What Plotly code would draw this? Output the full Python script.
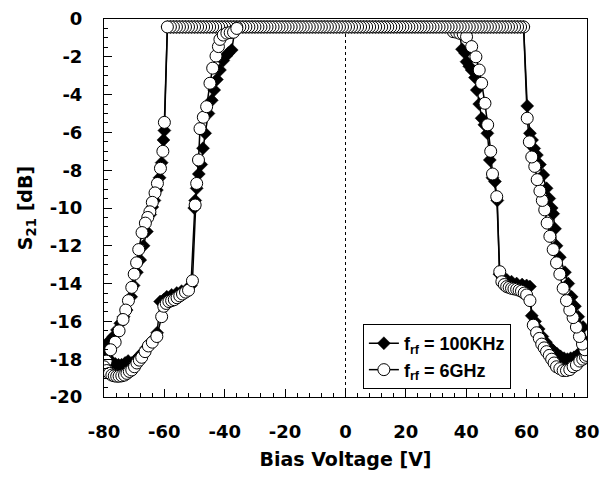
import plotly.graph_objects as go

# ---------------- data ----------------
# 6 GHz (open circles)
g6_inner_right_v = [35.7, 36.8, 37.9, 39.0, 40.1, 41.8, 43.2, 44.3, 45.1, 46.2, 47.1, 48.1, 48.7, 50.1,
                    51.1, 51.8, 52.6, 53.4, 54.2, 55.0, 55.8, 56.7, 57.5, 58.3, 59.2, 60.0, 61.1,
                    62.2, 63.3, 64.2, 65.0, 65.8, 66.6, 67.5, 68.3, 69.1, 69.9, 71.0, 72.1, 73.2,
                    74.3, 75.4, 76.5, 77.6, 78.6, 79.5, 80.0]
g6_inner_right_db = [-0.67, -0.7, -0.76, -0.8, -0.94, -1.46, -2.0, -2.7, -3.4, -4.46, -5.6, -7.0, -8.2, -9.4,
                     -13.37, -13.9, -14.05, -14.16, -14.2, -14.25, -14.28, -14.3, -14.35, -14.4, -14.5, -14.6, -14.9,
                     -16.2, -16.6, -16.9, -17.2, -17.4, -17.6, -17.8, -18.0, -18.2, -18.4, -18.5, -18.6, -18.6,
                     -18.55, -18.4, -18.3, -18.1, -18.0, -17.9, -17.8]
g6_outer_right_v = [79.3, 78.5, 77.5, 76.5, 75.4, 74.3, 73.2, 72.1, 71.0, 69.9, 68.8, 67.7, 66.8, 66.0,
                    65.2, 64.4, 63.5, 62.7, 61.7, 60.9, 60.2]
g6_outer_right_db = [-17.5, -17.2, -16.8, -16.3, -15.8, -15.4, -14.9, -14.25, -13.5, -12.9, -12.2, -11.5, -10.8, -10.1,
                     -9.6, -9.1, -8.5, -7.8, -7.3, -6.5, -5.25]
top_v = list(range(59, -60, -1))
g6_top_db = [-0.42] * len(top_v)
g6_outer_left_v = [-60.0, -60.5, -61.3, -62.3, -63.1, -64.0, -64.8, -65.5, -66.3, -67.4, -68.5, -69.2, -70.0,
                   -70.8, -71.9, -72.8, -73.7, -75.0, -76.3, -77.8, -79.3]
g6_outer_left_db = [-5.47, -7.0, -7.9, -8.7, -9.2, -9.7, -10.2, -10.5, -10.8, -11.3, -12.2, -12.9, -13.5,
                    -14.2, -14.9, -15.4, -15.9, -16.5, -17.1, -17.5, -18.1]
g6_inner_left_v = [-80.0, -79.1, -78.2, -77.4, -76.6, -75.8, -75.0, -74.1, -73.2, -72.4, -71.6, -70.8, -69.9,
                   -69.1, -68.3, -67.5, -66.4, -65.3, -64.0, -62.5, -60.9, -60.2, -59.4, -58.5, -57.6, -56.7,
                   -55.8, -54.9, -54.0, -53.0, -52.0, -50.7, -49.8, -49.3, -48.7, -48.2, -47.1, -46.0, -44.9,
                   -44.0, -42.9, -42.1, -41.6, -40.5, -39.3, -38.2, -37.1, -36.0]
g6_inner_left_db = [-18.4, -18.6, -18.75, -18.84, -18.88, -18.9, -18.9, -18.88, -18.84, -18.75, -18.65, -18.57, -18.4,
                    -18.2, -18.05, -17.9, -17.6, -17.3, -17.1, -16.8, -15.75, -15.2, -15.05, -14.95, -14.9, -14.85,
                    -14.75, -14.65, -14.55, -14.45, -14.35, -13.85, -9.84, -8.7, -7.46, -5.8, -5.2, -4.64, -3.4,
                    -2.6, -1.96, -1.46, -1.08, -0.85, -0.75, -0.72, -0.7, -0.5]

# 100 KHz (filled diamonds)
k_inner_right_v = [37.5, 38.6, 39.6, 40.1, 41.0, 41.8, 42.9, 43.5, 44.3, 45.1, 46.0, 47.0, 47.8, 48.7, 49.5,
                   50.3, 51.0, 52.0, 53.4, 55.0, 56.7, 58.5, 60.0, 61.1, 61.7, 62.8, 64.0, 65.2, 66.4, 67.6,
                   68.8, 70.0, 71.2, 72.4, 73.5, 74.6, 75.7, 76.8, 77.9, 79.0, 80.0]
k_inner_right_db = [-0.45, -1.6, -1.8, -2.26, -2.5, -2.7, -3.1, -3.76, -4.5, -5.25, -5.6, -6.05, -7.46, -8.4, -8.6,
                    -9.6, -13.5, -13.7, -13.8, -13.9, -14.0, -14.05, -14.1, -14.16, -15.7, -16.0, -16.4, -16.8, -17.1, -17.35,
                    -17.55, -17.7, -17.85, -17.95, -18.0, -17.95, -17.9, -17.8, -17.6, -17.35, -17.1]
k_outer_right_v = [78.7, 77.1, 76.0, 74.9, 73.8, 72.7, 71.0, 69.9, 69.4, 68.8, 68.3, 67.5, 66.6, 65.5, 64.4,
                   63.4, 62.5, 61.8, 61.1, 60.2]
k_outer_right_db = [-16.3, -15.75, -15.2, -14.7, -14.0, -13.4, -12.6, -12.0, -11.1, -10.3, -10.0, -9.5, -8.96, -8.25, -7.7,
                    -7.2, -6.85, -6.4, -6.05, -4.6]
k_top_db = [-0.42] * len(top_v)
k_outer_left_v = [-60.0, -60.3, -60.9, -61.6, -62.5, -63.3, -64.0, -64.7, -65.8, -66.9, -68.0, -69.1, -70.2,
                  -71.0, -72.5, -73.5, -74.6, -75.7, -76.9, -78.0, -79.0]
k_outer_left_db = [-5.9, -6.4, -7.6, -8.4, -9.05, -9.6, -9.95, -10.35, -11.25, -12.0, -12.75, -13.4, -14.1,
                   -14.7, -15.4, -15.75, -16.1, -16.45, -16.8, -17.0, -17.2]
k_inner_left_v = [-80.0, -78.5, -77.3, -76.2, -75.2, -74.2, -73.0, -72.0, -70.8, -69.6, -68.4, -67.2, -66.0,
                  -64.8, -63.6, -62.4, -61.4, -60.2, -59.2, -57.6, -55.9, -54.3, -52.6, -51.2, -50.1, -49.8,
                  -49.3, -48.6, -47.8, -47.2, -46.5, -45.4, -44.3, -43.5, -42.6, -41.6, -40.5, -39.5, -38.8,
                  -37.7, -36.5]
k_inner_left_db = [-17.7, -18.0, -18.15, -18.25, -18.3, -18.3, -18.2, -18.1, -18.2, -18.05, -17.85, -17.65, -17.4,
                   -17.15, -16.95, -16.6, -14.95, -14.85, -14.7, -14.6, -14.5, -14.4, -14.3, -14.1, -10.0, -9.6,
                   -8.96, -8.2, -7.7, -6.84, -6.05, -5.0, -4.3, -3.76, -3.2, -2.7, -2.2, -1.95, -1.8,
                   -1.64, -0.45]

x_ticks = [-80, -60, -40, -20, 0, 20, 40, 60, 80]
y_ticks = [0, -2, -4, -6, -8, -10, -12, -14, -16, -18, -20]

# ---------------- build sweep paths ----------------
k_x = k_inner_right_v + k_outer_right_v + top_v + k_outer_left_v + k_inner_left_v
k_y = k_inner_right_db + k_outer_right_db + k_top_db + k_outer_left_db + k_inner_left_db
g6_x = g6_inner_right_v + g6_outer_right_v + top_v + g6_outer_left_v + g6_inner_left_v
g6_y = g6_inner_right_db + g6_outer_right_db + g6_top_db + g6_outer_left_db + g6_inner_left_db

AXFONT = "DejaVu Sans, Liberation Sans, Arial, sans-serif"
LGFONT = "Liberation Sans, Arial, sans-serif"

fig = go.Figure()
fig.add_trace(go.Scatter(
    x=k_x, y=k_y, mode="lines+markers", name="f<sub>rf</sub> = 100KHz",
    line=dict(color="black", width=1.5),
    marker=dict(symbol="diamond", size=10, color="black", line=dict(color="black", width=0.5)),
))
fig.add_trace(go.Scatter(
    x=g6_x, y=g6_y, mode="lines+markers", name="f<sub>rf</sub> = 6GHz",
    line=dict(color="black", width=1.5),
    marker=dict(symbol="circle", size=12, color="white", line=dict(color="black", width=1)),
))

fig.add_shape(type="line", x0=0, x1=0, y0=-20, y1=0, xref="x", yref="y",
              line=dict(color="black", width=1, dash="dot"), layer="below")

fig.update_layout(
    width=601, height=477,
    margin=dict(l=104, r=14, t=19, b=80, autoexpand=False),
    paper_bgcolor="white", plot_bgcolor="white",
    font=dict(family=AXFONT, size=18, color="black", weight="bold"),
    showlegend=True,
    legend=dict(x=0.536, y=0.193, xanchor="left", yanchor="top",
                bgcolor="white", bordercolor="black", borderwidth=1,
                font=dict(size=18, family=LGFONT, weight="bold"),
                itemwidth=30, tracegroupgap=0),
    xaxis=dict(
        range=[-80, 80], tickvals=x_ticks, ticktext=[str(v) for v in x_ticks],
        ticks="inside", ticklen=8, tickcolor="black", tickwidth=1,
        minor=dict(dtick=4, ticks="inside", ticklen=4, tickcolor="black"),
        showline=True, linecolor="black", linewidth=1, mirror=True,
        showgrid=False, zeroline=False, ticklabelstandoff=18, ticklabeloverflow="allow",
        title=dict(text="Bias Voltage [V]", standoff=12, font=dict(size=19, weight="bold")),
    ),
    yaxis=dict(
        range=[-20, 0], tickvals=y_ticks, ticktext=[str(v) for v in y_ticks],
        ticks="inside", ticklen=8, tickcolor="black", tickwidth=1,
        minor=dict(dtick=0.5, ticks="inside", ticklen=4, tickcolor="black"),
        showline=True, linecolor="black", linewidth=1, mirror=True,
        showgrid=False, zeroline=False, ticklabelstandoff=17, ticklabeloverflow="allow",
        title=dict(text="S<sub>21</sub> [dB]", standoff=12, font=dict(size=19, weight="bold")),
    ),
)

# remove the default page margin so the figure sits at the window's top-left corner
fig.write_html("out.html", config={"displayModeBar": False},
               post_script="document.body.style.margin='0';")
